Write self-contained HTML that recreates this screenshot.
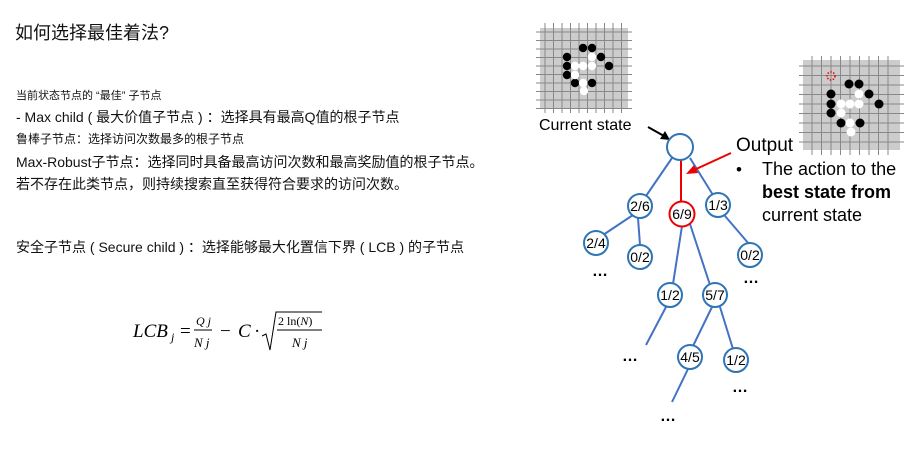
<!DOCTYPE html>
<html><head><meta charset="utf-8"><style>
body{margin:0;width:914px;height:455px;background:#fff;position:relative;overflow:hidden;font-family:"Liberation Sans","Noto Sans CJK SC",sans-serif;color:#111}
.t{position:absolute;white-space:nowrap}
</style></head><body>
<div class="t" style="left:15px;top:19px;font-size:18px">如何选择最佳着法?</div>
<div class="t" style="left:16px;top:87px;font-size:11px">当前状态节点的 “最佳” 子节点</div>
<div class="t" style="left:16px;top:107px;font-size:14px">- Max child ( 最大价值子节点 ) ：选择具有最高Q值的根子节点</div>
<div class="t" style="left:16px;top:130px;font-size:12px">鲁棒子节点：选择访问次数最多的根子节点</div>
<div class="t" style="left:16px;top:152px;font-size:14px">Max-Robust子节点：选择同时具备最高访问次数和最高奖励值的根子节点。</div>
<div class="t" style="left:16px;top:174px;font-size:14px">若不存在此类节点，则持续搜索直至获得符合要求的访问次数。</div>
<div class="t" style="left:16px;top:237px;font-size:14px">安全子节点 ( Secure child ) ：选择能够最大化置信下界 ( LCB ) 的子节点</div>
<svg width="914" height="455" style="position:absolute;left:0;top:0" font-family="Liberation Serif,serif">
<g font-style="italic" font-size="19">
<text x="133" y="337">LCB</text><text x="171" y="341" font-size="12">j</text>
<text x="180" y="337" font-style="normal">=</text>
<text x="196" y="325" font-size="12">Q j</text><line x1="194" y1="330" x2="212" y2="330" stroke="#000"/><text x="194" y="347" font-size="13">N j</text>
<text x="220" y="337" font-style="normal">−</text><text x="238" y="337">C</text><text x="254" y="337" font-style="normal">·</text>
<polyline points="262,336 266,334 270,350 276,312 322,312" fill="none" stroke="#000"/>
<text x="278" y="325" font-size="12" font-style="normal">2 ln(<tspan font-style="italic">N</tspan>)</text>
<line x1="277" y1="330" x2="322" y2="330" stroke="#000"/><text x="292" y="347" font-size="13">N j</text>
</g>
<rect x="540" y="28" width="88" height="80" fill="#ccc"/>
<g stroke="#888" stroke-width="1">
<path d="M545 23V113M553.5 23V113M562 23V113M570.5 23V113M579 23V113M587.5 23V113M596 23V113M604.5 23V113M613 23V113M621.5 23V113"/>
<path d="M536 32H632M536 40.5H632M536 49H632M536 57.5H632M536 66H632M536 74.5H632M536 83H632M536 91.5H632M536 100H632M536 108.5H632"/>
</g>
<g fill="#000"><circle cx="583" cy="48" r="4.2"/><circle cx="592" cy="48" r="4.2"/><circle cx="601" cy="57" r="4.2"/><circle cx="567" cy="57" r="4.2"/><circle cx="567" cy="66" r="4.2"/><circle cx="609" cy="66" r="4.2"/><circle cx="567" cy="75" r="4.2"/><circle cx="575" cy="83" r="4.2"/><circle cx="592" cy="83" r="4.2"/></g>
<g fill="#fff"><circle cx="592" cy="57" r="4.2"/><circle cx="575" cy="66" r="4.2"/><circle cx="583" cy="66" r="4.2"/><circle cx="592" cy="66" r="4.2"/><circle cx="575" cy="75" r="4.2"/><circle cx="583" cy="83" r="4.2"/><circle cx="584" cy="91" r="4.2"/></g>
<rect x="803" y="60" width="97" height="90" fill="#ccc"/>
<g stroke="#888" stroke-width="1">
<path d="M812 56V155M821.5 56V155M831 56V155M840.5 56V155M850 56V155M859.5 56V155M869 56V155M878.5 56V155M888 56V155"/>
<path d="M799 66H904M799 75.5H904M799 85H904M799 94.5H904M799 104H904M799 113.5H904M799 123H904M799 132.5H904M799 142H904"/>
</g>
<circle cx="831" cy="76" r="4" fill="none" stroke="#e00" stroke-dasharray="1.5 1.5" stroke-width="1.5"/>
<g fill="#000"><circle cx="849" cy="84" r="4.5"/><circle cx="859" cy="84" r="4.5"/><circle cx="869" cy="94" r="4.5"/><circle cx="831" cy="94" r="4.5"/><circle cx="831" cy="104" r="4.5"/><circle cx="879" cy="104" r="4.5"/><circle cx="831" cy="113" r="4.5"/><circle cx="841" cy="123" r="4.5"/><circle cx="860" cy="123" r="4.5"/></g>
<g fill="#fff"><circle cx="859" cy="94" r="4.5"/><circle cx="841" cy="104" r="4.5"/><circle cx="850" cy="104" r="4.5"/><circle cx="859" cy="104" r="4.5"/><circle cx="841" cy="113" r="4.5"/><circle cx="850" cy="123" r="4.5"/><circle cx="851" cy="132" r="4.5"/></g>
<g font-family="Liberation Sans,sans-serif">
<text x="539" y="130" font-size="16">Current state</text>
<line x1="648" y1="127" x2="664" y2="136" stroke="#000" stroke-width="2"/><polygon points="670,140 660,139 665,131" fill="#000"/>
<g stroke="#4472c4" stroke-width="2" fill="none">
<path d="M672 158L646 196M690 158L713 195M633 215L603 235M638 218L640 245M682 226L673 284M690 224L710 285M749 244L725 216M666 307L646 345M712 307L693 346M720 307L733 349M688 369L672 402"/>
</g>
<line x1="681" y1="160" x2="681" y2="202" stroke="#e00" stroke-width="2"/>
<line x1="731" y1="153" x2="694" y2="170" stroke="#e00" stroke-width="2"/><polygon points="686,174 694,165 698,173" fill="#e00"/>
<g stroke="#2e75b6" stroke-width="2" fill="#fff">
<circle cx="680" cy="147" r="13"/><circle cx="640" cy="206" r="12"/><circle cx="718" cy="205" r="12"/><circle cx="596" cy="243" r="12"/><circle cx="640" cy="257" r="12"/><circle cx="750" cy="255" r="12"/><circle cx="670" cy="295" r="12"/><circle cx="715" cy="295" r="12"/><circle cx="690" cy="357" r="12"/><circle cx="736" cy="360" r="12"/>
<circle cx="682" cy="214" r="12.5" stroke="#e00"/></g>
<g font-size="14" text-anchor="middle">
<text x="640" y="211">2/6</text><text x="682" y="219">6/9</text><text x="718" y="210">1/3</text><text x="596" y="248">2/4</text><text x="640" y="262">0/2</text><text x="750" y="260">0/2</text><text x="670" y="300">1/2</text><text x="715" y="300">5/7</text><text x="690" y="362">4/5</text><text x="736" y="365">1/2</text>
<g font-weight="bold" font-size="16"><text x="600" y="276">…</text><text x="751" y="283">…</text><text x="630" y="361">…</text><text x="740" y="392">…</text><text x="668" y="421">…</text></g>
</g>
<text x="736" y="151" font-size="19">Output</text>
<text x="736" y="175" font-size="17">•</text>
<text x="762" y="175" font-size="18">The action to the</text>
<text x="762" y="198" font-size="18" font-weight="bold">best state from</text>
<text x="762" y="221" font-size="18">current state</text>
</g>
</svg>
</body></html>
